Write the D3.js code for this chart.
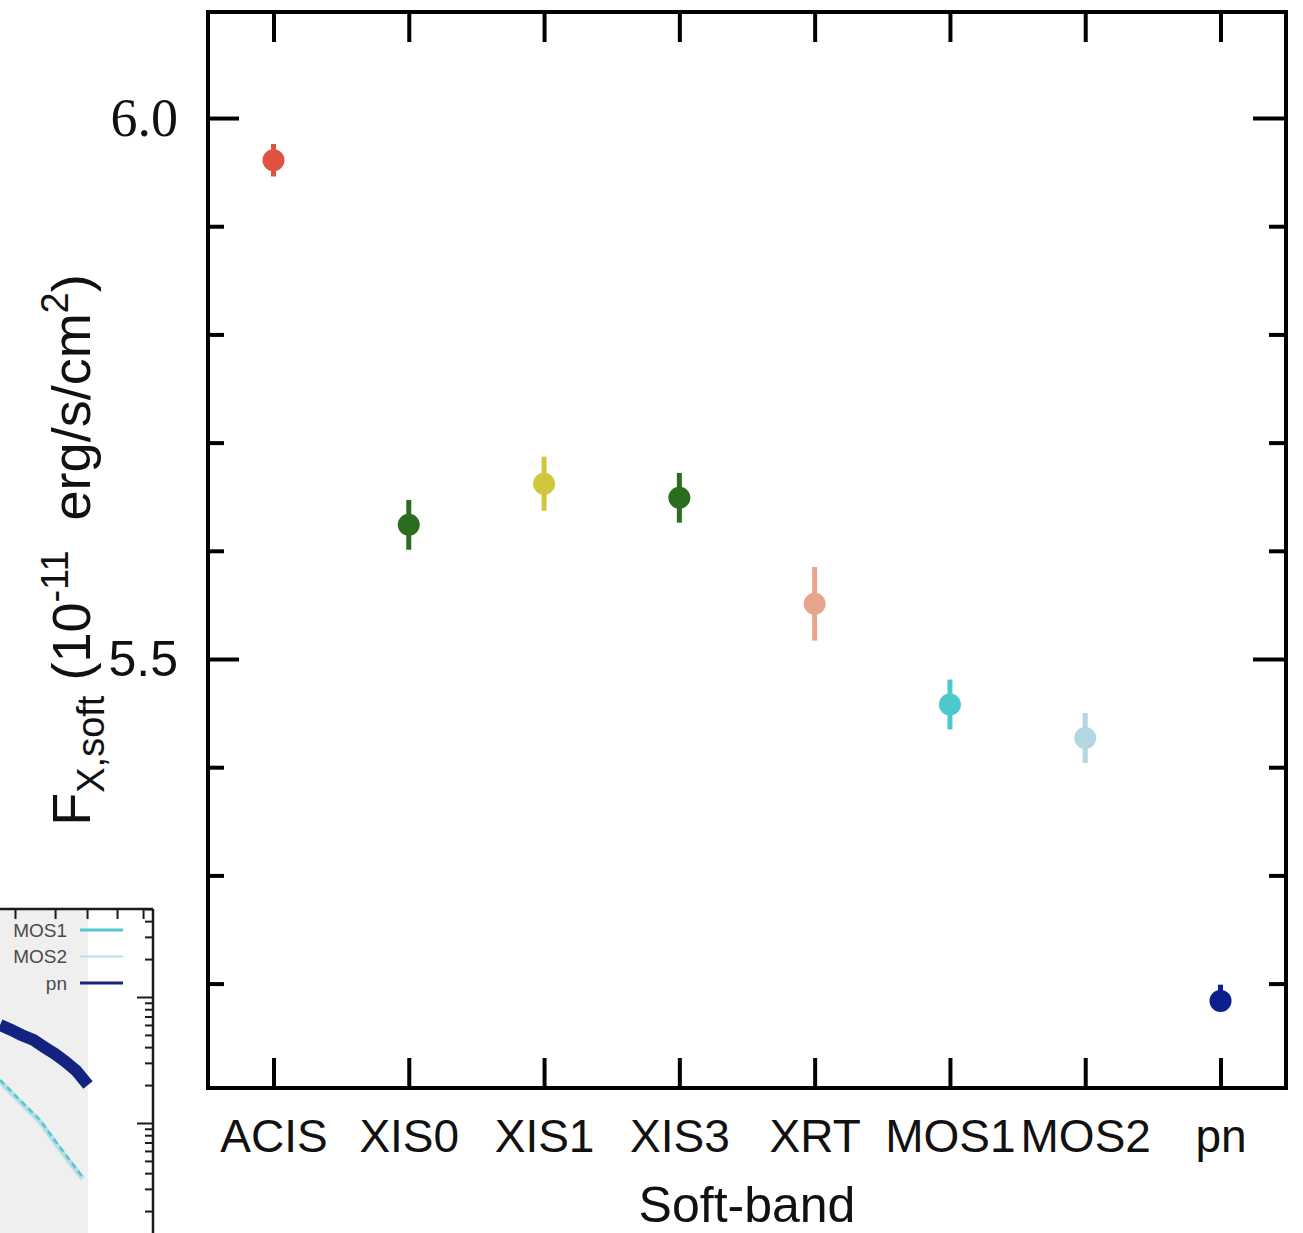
<!DOCTYPE html>
<html>
<head>
<meta charset="utf-8">
<script src="https://cdn.jsdelivr.net/npm/d3@7"></script>
<style>
  html, body { margin: 0; padding: 0; background: #fff; }
  svg { display: block; }
</style>
</head>
<body>
<svg id="chart" width="1303" height="1233" font-family='"Liberation Sans", Arial, Helvetica, sans-serif'></svg>
<script>
// ---------------- data (main panel) ----------------
const categories = ["ACIS", "XIS0", "XIS1", "XIS3", "XRT", "MOS1", "MOS2", "pn"];
const fluxValues = [5.961, 5.624, 5.662, 5.649, 5.551, 5.458, 5.427, 5.184];
const fluxErrLow = [0.015, 0.023, 0.025, 0.023, 0.034, 0.023, 0.023, 0.008];
const fluxErrHigh = [0.015, 0.023, 0.025, 0.023, 0.034, 0.023, 0.023, 0.015];
const pointColors = ["#e0533f", "#2b6d1f", "#d2c63c", "#2b6d1f", "#e6a58c", "#4dc8cc", "#b3d6e0", "#0b1f8f"];
const yMajorTicks = [6.0, 5.5];
const yMajorLabels = ["6.0", "5.5"];
const yMinorTicks = [5.2, 5.3, 5.4, 5.6, 5.7, 5.8, 5.9];
const xTitle = "Soft-band";

// ---------------- data (cropped neighbouring panel, lower left) ----------------
const fragLegendNames = ["MOS1", "MOS2", "pn"];
const fragLegendColors = ["#50c8d0", "#b8dde6", "#14237f"];
const fragPnX = [0.0, 0.07, 0.14, 0.22, 0.29, 0.36, 0.43, 0.50, 0.575];
const fragPnY = [0.60, 0.55, 0.50, 0.456, 0.40, 0.353, 0.305, 0.259, 0.20];
const fragMosX = [0.0, 0.13, 0.26, 0.39, 0.54];
const fragMos1Y = [0.219, 0.152, 0.106, 0.0645, 0.0373];
const fragMos2Y = [0.214, 0.148, 0.103, 0.0625, 0.0362];
const fragTopTicks = [0.098, 0.36, 0.569, 0.765, 0.935];
const fragMajorY = [1, 0.1];
const fragMinorY = [5, 4, 3, 2, 0.9, 0.8, 0.7, 0.6, 0.5, 0.4, 0.3, 0.2,
                    0.09, 0.08, 0.07, 0.06, 0.05, 0.04, 0.03, 0.02];

const svg = d3.select("#chart");

// ================= fragment panel =================
const fragLeft = 0, fragRight = 153, fragTop = 909, fragBottom = 1233;
const fragX = d3.scaleLinear().domain([0, 1]).range([fragLeft, fragRight]);
const fragY = d3.scaleLog().domain([0.1, 1]).range([1123, 997]);
const frag = svg.append("g");

frag.append("rect")
  .attr("x", fragX(0)).attr("y", fragTop)
  .attr("width", fragX(0.575) - fragX(0)).attr("height", fragBottom - fragTop)
  .attr("fill", "#efefef");

const fragLine = d3.line().x(d => fragX(d[0])).y(d => fragY(d[1]));
frag.append("path").datum(fragMosX.map((x, i) => [x, fragMos2Y[i]]))
  .attr("d", fragLine).attr("fill", "none").attr("stroke", fragLegendColors[1]).attr("stroke-width", 5);
frag.append("path").datum(fragMosX.map((x, i) => [x, fragMos1Y[i]]))
  .attr("d", fragLine).attr("fill", "none").attr("stroke", fragLegendColors[0]).attr("stroke-width", 2.5)
  .attr("stroke-dasharray", "6 4");
frag.append("path").datum(fragPnX.map((x, i) => [x, fragPnY[i]]))
  .attr("d", fragLine).attr("fill", "none").attr("stroke", fragLegendColors[2]).attr("stroke-width", 12);

// fragment frame
frag.append("line").attr("x1", fragLeft).attr("x2", fragRight).attr("y1", fragTop).attr("y2", fragTop)
  .attr("stroke", "#1a1a1a").attr("stroke-width", 2.5);
frag.append("line").attr("x1", fragRight).attr("x2", fragRight).attr("y1", fragTop).attr("y2", fragBottom)
  .attr("stroke", "#1a1a1a").attr("stroke-width", 2.5);

// fragment ticks
const fragTopAxis = d3.axisBottom(fragX).tickValues(fragTopTicks).tickSize(10).tickFormat("");
frag.append("g").attr("transform", `translate(0,${fragTop})`).call(fragTopAxis)
  .call(g => g.select(".domain").remove())
  .call(g => g.selectAll(".tick line").attr("stroke", "#1a1a1a").attr("stroke-width", 2));
const fragMajAxis = d3.axisLeft(fragY).tickValues(fragMajorY).tickSize(16).tickFormat("");
frag.append("g").attr("transform", `translate(${fragRight},0)`).call(fragMajAxis)
  .call(g => g.select(".domain").remove())
  .call(g => g.selectAll(".tick line").attr("stroke", "#1a1a1a").attr("stroke-width", 2));
const fragMinAxis = d3.axisLeft(fragY).tickValues(fragMinorY).tickSize(8).tickFormat("");
frag.append("g").attr("transform", `translate(${fragRight},0)`).call(fragMinAxis)
  .call(g => g.select(".domain").remove())
  .call(g => g.selectAll(".tick line").attr("stroke", "#1a1a1a").attr("stroke-width", 2));

// fragment legend
const legY = d3.scalePoint().domain(fragLegendNames).range([930, 983]);
fragLegendNames.forEach((n, i) => {
  frag.append("text").attr("x", 67).attr("y", legY(n)).attr("dy", "0.35em")
    .attr("text-anchor", "end").attr("font-size", 19).attr("fill", "#4a4a4a").text(n);
  frag.append("line").attr("x1", 80).attr("x2", 123).attr("y1", legY(n)).attr("y2", legY(n))
    .attr("stroke", fragLegendColors[i]).attr("stroke-width", i === 1 ? 2 : 3);
});

// ================= main panel =================
const pL = 208, pR = 1286, pT = 12, pB = 1088;
const x = d3.scalePoint().domain(categories).range([pL, pR]).padding(0.484);
const y = d3.scaleLinear().domain([5.1035, 6.098]).range([pB, pT]);

const main = svg.append("g");
main.append("rect").attr("x", pL).attr("y", pT)
  .attr("width", pR - pL).attr("height", pB - pT)
  .attr("fill", "#fff");

function styleAxis(g) {
  g.select(".domain").remove();
  g.selectAll(".tick line").attr("stroke", "#000").attr("stroke-width", 4);
}

// x axis bottom with labels, inward ticks
main.append("g").attr("transform", `translate(0,${pB})`)
  .call(d3.axisBottom(x).tickSizeInner(-30).tickSizeOuter(0).tickPadding(31))
  .call(styleAxis)
  .call(g => g.selectAll("text").attr("font-size", 46).attr("fill", "#111")
    .attr("font-family", '"Liberation Sans", Arial, sans-serif'));
// x axis top ticks
main.append("g").attr("transform", `translate(0,${pT})`)
  .call(d3.axisTop(x).tickSizeInner(-30).tickSizeOuter(0).tickFormat(""))
  .call(styleAxis);

// y axis left major (labeled)
const majorFmt = v => yMajorLabels[yMajorTicks.indexOf(v)];
main.append("g").attr("transform", `translate(${pL},0)`)
  .call(d3.axisLeft(y).tickValues(yMajorTicks).tickSizeInner(-31).tickSizeOuter(0)
    .tickPadding(30).tickFormat(majorFmt))
  .call(styleAxis)
  .call(g => g.selectAll("text").attr("fill", "#111")
    .attr("font-family", d => d === 6.0 ? '"Liberation Serif", "Times New Roman", serif' : '"Liberation Sans", Arial, sans-serif')
    .attr("font-size", d => d === 6.0 ? 54 : 50));
// y axis left minor
main.append("g").attr("transform", `translate(${pL},0)`)
  .call(d3.axisLeft(y).tickValues(yMinorTicks).tickSizeInner(-16).tickSizeOuter(0).tickFormat(""))
  .call(styleAxis);
// y axis right
main.append("g").attr("transform", `translate(${pR},0)`)
  .call(d3.axisRight(y).tickValues(yMajorTicks).tickSizeInner(-33).tickSizeOuter(0).tickFormat(""))
  .call(styleAxis);
main.append("g").attr("transform", `translate(${pR},0)`)
  .call(d3.axisRight(y).tickValues(yMinorTicks).tickSizeInner(-17).tickSizeOuter(0).tickFormat(""))
  .call(styleAxis);

// frame
main.append("rect").attr("x", pL).attr("y", pT)
  .attr("width", pR - pL).attr("height", pB - pT)
  .attr("fill", "none").attr("stroke", "#000").attr("stroke-width", 4);

// data points with error bars
const pts = categories.map((c, i) => ({ c, v: fluxValues[i], lo: fluxErrLow[i], hi: fluxErrHigh[i], col: pointColors[i] }));
const pg = main.append("g").selectAll("g").data(pts).join("g");
pg.append("line")
  .attr("x1", d => x(d.c)).attr("x2", d => x(d.c))
  .attr("y1", d => y(d.v - d.lo)).attr("y2", d => y(d.v + d.hi))
  .attr("stroke", d => d.col).attr("stroke-width", 5);
pg.append("circle")
  .attr("cx", d => x(d.c)).attr("cy", d => y(d.v)).attr("r", 11)
  .attr("fill", d => d.col);

// x axis title
main.append("text").attr("x", (pL + pR) / 2).attr("y", 1222)
  .attr("text-anchor", "middle").attr("font-size", 50).attr("fill", "#111").text(xTitle);

// y axis title
const yt = main.append("text")
  .attr("transform", `translate(90,${(pT + pB) / 2}) rotate(-90)`)
  .attr("text-anchor", "middle").attr("font-size", 54).attr("fill", "#111")
  .style("white-space", "pre");
yt.append("tspan").text("F");
yt.append("tspan").attr("font-size", 38).attr("dy", 14).text("X,soft");
yt.append("tspan").attr("dy", -14).text(" (10");
yt.append("tspan").attr("font-size", 38).attr("dy", -22).text("-11");
yt.append("tspan").attr("dy", 22).text("  erg/s/cm");
yt.append("tspan").attr("font-size", 38).attr("dy", -22).text("2");
yt.append("tspan").attr("dy", 22).text(")");
</script>
</body>
</html>
